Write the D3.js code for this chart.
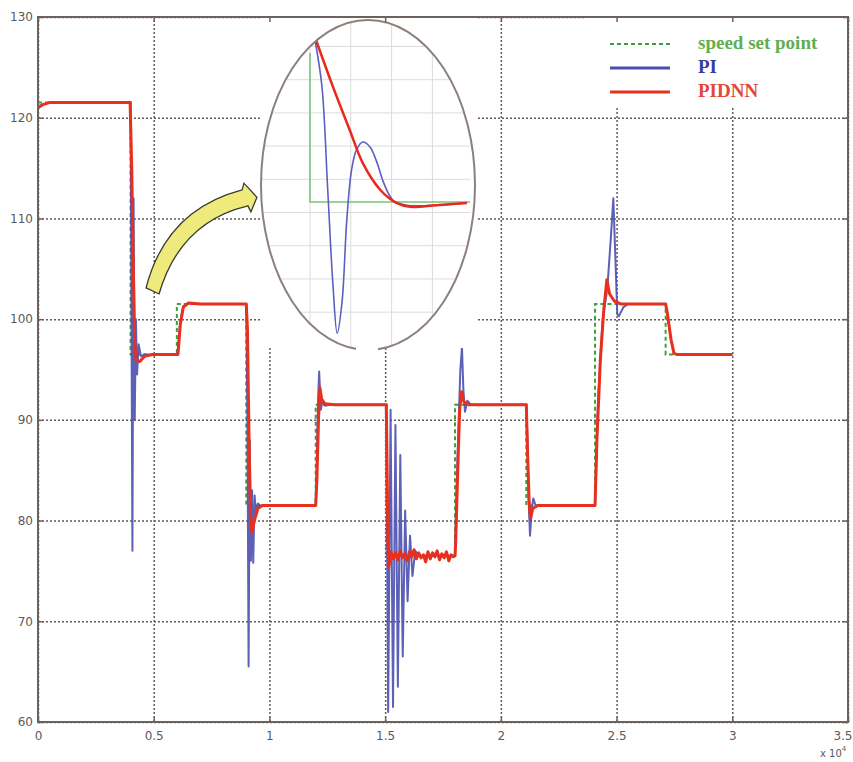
<!DOCTYPE html>
<html>
<head>
<meta charset="utf-8">
<script src="https://cdn.jsdelivr.net/npm/d3@7"></script>
<style>
  body { margin: 0; background: #fff; }
  .tick text { font-family: "DejaVu Sans", sans-serif; font-size: 12px; fill: #5a5a5a; }
  .leg { font-family: "Liberation Serif", serif; font-weight: bold; font-size: 19px; }
</style>
</head>
<body>
<svg width="853" height="762"></svg>
<script>
// ticks
var xTicks = [0, 0.5, 1, 1.5, 2, 2.5, 3, 3.5];
var yTicks = [60, 70, 80, 90, 100, 110, 120, 130];

// speed set point (step after)
var setPoint = [[0,121.5],[0.4,96.5],[0.6,101.5],[0.9,81.5],[1.2,91.5],[1.505,76.5],
  [1.802,91.5],[2.11,81.5],[2.407,101.5],[2.712,96.5],[3.0,96.5]];

// PI response
var piData = [[0,121.0],[0.02,121.3],[0.05,121.5],[0.4,121.5],[0.404,100],[0.408,77],[0.413,112],
  [0.418,90],[0.423,100],[0.428,94.5],[0.435,97.5],[0.445,96.3],[0.46,96.5],
  [0.6,96.5],[0.605,97],[0.615,99.8],[0.628,101.3],[0.65,101.6],[0.7,101.5],
  [0.9,101.5],[0.905,90],[0.91,65.5],[0.915,88],[0.92,76],[0.925,83],[0.93,75.8],[0.936,82.5],
  [0.942,80.5],[0.95,81.7],[0.96,81.5],
  [1.2,81.5],[1.204,85],[1.21,92],[1.215,94.8],[1.222,91],[1.23,92],[1.24,91.4],[1.26,91.5],
  [1.505,91.5],[1.509,76],[1.513,61],[1.5235,91],[1.534,61.5],[1.5445,89.5],[1.555,63.5],
  [1.5655,86.5],[1.576,66.5],[1.5865,81],[1.597,72],[1.6075,78.5],[1.618,74.5],[1.63,77],
  [1.645,76.5],[1.802,76.5],
  [1.805,80],[1.815,88],[1.825,95],[1.832,97.2],[1.838,93],[1.845,90.8],[1.855,91.9],[1.87,91.5],
  [2.11,91.5],[2.115,88],[2.12,82],[2.126,78.5],[2.133,81],[2.14,82.2],[2.15,81.5],
  [2.407,81.5],[2.42,92],[2.44,100],[2.46,103],[2.475,108],[2.486,112],[2.495,106],
  [2.503,100.5],[2.51,100.3],[2.53,101.2],[2.55,101.5],
  [2.712,101.5],[2.72,100.5],[2.735,98],[2.748,96.6],[2.76,96.5],[3.0,96.5]];

// PIDNN response
var pidnnData = [[0,121.0],[0.02,121.3],[0.05,121.5],[0.398,121.5],[0.405,115],[0.412,105],
  [0.418,97.5],[0.425,95.9],[0.44,95.8],[0.46,96.3],[0.5,96.5],
  [0.605,96.5],[0.615,99.5],[0.628,101.2],[0.65,101.6],[0.7,101.5],
  [0.9,101.5],[0.905,99],[0.912,88],[0.918,80.5],[0.925,78.8],[0.935,80],[0.95,81.2],[0.97,81.5],
  [1.2,81.5],[1.205,84],[1.212,90],[1.218,93.2],[1.226,92.0],[1.24,91.6],[1.28,91.5],
  [1.505,91.5],[1.508,86],[1.512,78],[1.515,75.3],[1.52,76.0],[1.525,76.9],[1.535,76.2],
  [1.545,76.8],[1.555,76.1],[1.565,77.0],[1.575,76.3],[1.585,76.7],[1.595,76.0],[1.605,76.9],
  [1.615,76.4],[1.625,77.1],[1.635,76.2],[1.645,76.8],[1.655,76.3],[1.665,76.6],[1.675,75.9],
  [1.685,76.9],[1.695,76.2],[1.705,76.8],[1.715,76.4],[1.725,77.0],[1.735,76.1],[1.745,76.7],
  [1.755,76.3],[1.765,76.9],[1.775,76.0],[1.785,76.6],[1.795,76.4],[1.802,76.5],
  [1.805,78],[1.815,86],[1.822,91],[1.83,92.8],[1.84,91.8],[1.86,91.5],
  [2.11,91.5],[2.115,87],[2.122,82],[2.128,80.2],[2.138,81.2],[2.16,81.5],
  [2.407,81.5],[2.415,88],[2.43,96],[2.445,101],[2.458,103.9],[2.47,102.5],[2.49,101.8],[2.52,101.5],
  [2.712,101.5],[2.72,100.5],[2.735,98],[2.748,96.6],[2.76,96.5],[3.0,96.5]];

// zoomed inset (normalised units)
var insetSet = [[0,0.92],[0,0],[10,0]];
var insetPIDNN = [[0.375,1],[1.44,0.71],[2.5,0.44],[3.3,0.24],[4.4,0.074],[5.4,-0.006],
  [6.25,-0.03],[7.9,-0.02],[9.8,-0.006]];
var insetPI = [[0.31,1],[0.75,0.71],[1.1,0.09],[1.44,-0.52],[1.7,-0.81],[2.0,-0.62],[2.3,-0.11],
  [2.6,0.2],[2.9,0.32],[3.3,0.37],[3.75,0.34],[4.2,0.24],[4.6,0.12],[5.2,0.01],[6.05,-0.02],
  [7.9,-0.02],[9.8,-0.006]];
var insetGridU = [0, 2.55, 5.1, 7.65];
var insetGridV = [-0.68, -0.475, -0.27, -0.065, 0.14, 0.345, 0.55, 0.755, 0.96];

// arrow outline, data units
var arrowPts = [[0.467,103.1],[0.553,110.85],[0.882,112.84],[0.890,113.5],[0.946,112.1],
  [0.920,110.65],[0.907,111.25],[0.614,109.66],[0.523,102.5]];

var legendItems = [
  {name: "speed set point", color: "#3f9e3c", text: "#5fae4f", dash: "4,3"},
  {name: "PI", color: "#4a4fae", text: "#3a3d9c", dash: null},
  {name: "PIDNN", color: "#e8301f", text: "#e2473a", dash: null}
];

var svg = d3.select("svg");
var x = d3.scaleLinear().domain([0, 3.5]).range([38, 848]);
var y = d3.scaleLinear().domain([60, 130]).range([722, 17]);
var w = 810, h = 705;

// grid
svg.append("g")
    .attr("transform", "translate(0,722)")
    .call(d3.axisBottom(x).tickValues(xTicks).tickSize(-h).tickFormat(""))
    .call(function(g){ g.select(".domain").remove(); })
    .selectAll("line")
    .attr("stroke", "#665a56").attr("stroke-width", 1.5).attr("stroke-dasharray", "2,2");
svg.append("g")
    .attr("transform", "translate(38,0)")
    .call(d3.axisLeft(y).tickValues(yTicks).tickSize(-w).tickFormat(""))
    .call(function(g){ g.select(".domain").remove(); })
    .selectAll("line")
    .attr("stroke", "#665a56").attr("stroke-width", 1.5).attr("stroke-dasharray", "2,2");

var line = d3.line().x(function(d){ return x(d[0]); }).y(function(d){ return y(d[1]); });

svg.append("path").datum(setPoint)
    .attr("d", line.curve(d3.curveStepAfter))
    .attr("fill", "none").attr("stroke", "#3f9e3c").attr("stroke-width", 2)
    .attr("stroke-dasharray", "4,3");
line.curve(d3.curveLinear);
svg.append("path").datum(piData)
    .attr("d", line)
    .attr("fill", "none").attr("stroke", "#4a4fae").attr("stroke-width", 2)
    .attr("stroke-linejoin", "round").attr("opacity", 0.9);
svg.append("path").datum(pidnnData)
    .attr("d", line)
    .attr("fill", "none").attr("stroke", "#e8301f").attr("stroke-width", 3)
    .attr("stroke-linejoin", "round");

// arrow
svg.append("path")
    .attr("d", function(){
      var p = arrowPts.map(function(d){ return [x(d[0]), y(d[1])]; });
      return "M" + p[0] + "Q" + p[1] + " " + p[2] + "L" + p[3] + "L" + p[4] + "L" + p[5] +
             "L" + p[6] + "Q" + p[7] + " " + p[8] + "Z";
    })
    .attr("fill", "#eeeb7c").attr("stroke", "#3a3a30").attr("stroke-width", 1.3);

// inset
var cx = 368, cy = 185, rx = 107, ry = 165;
svg.append("rect").attr("x", 260).attr("y", 18).attr("width", 218).attr("height", 330)
    .attr("fill", "#fff");
svg.append("clipPath").attr("id", "ell")
    .append("ellipse").attr("cx", cx).attr("cy", cy).attr("rx", rx).attr("ry", ry);
var xi = d3.scaleLinear().domain([0, 10]).range([cx - 58, cx + 102]);
var yi = d3.scaleLinear().domain([0, 1]).range([cy + 17, cy - 145]);
var ins = svg.append("g").attr("clip-path", "url(#ell)");
ins.selectAll(".gv").data(insetGridU).enter().append("line")
    .attr("x1", function(d){ return xi(d); }).attr("x2", function(d){ return xi(d); })
    .attr("y1", cy - ry).attr("y2", cy + ry)
    .attr("stroke", "#dcdcdc").attr("stroke-width", 1);
ins.selectAll(".gh").data(insetGridV).enter().append("line")
    .attr("y1", function(d){ return yi(d); }).attr("y2", function(d){ return yi(d); })
    .attr("x1", cx - 110).attr("x2", xi(10))
    .attr("stroke", "#dcdcdc").attr("stroke-width", 1);
var iline = d3.line().x(function(d){ return xi(d[0]); }).y(function(d){ return yi(d[1]); });
ins.append("path").datum(insetSet).attr("d", iline)
    .attr("fill", "none").attr("stroke", "#7cc47a").attr("stroke-width", 1.6);
ins.append("path").datum(insetPI).attr("d", iline.curve(d3.curveCatmullRom))
    .attr("fill", "none").attr("stroke", "#5a5fc0").attr("stroke-width", 1.6);
ins.append("path").datum(insetPIDNN).attr("d", iline)
    .attr("fill", "none").attr("stroke", "#e8291c").attr("stroke-width", 2.5);
svg.append("ellipse").attr("cx", cx).attr("cy", cy).attr("rx", rx).attr("ry", ry)
    .attr("fill", "none").attr("stroke", "#8c807c").attr("stroke-width", 2);
svg.append("rect").attr("x", 356).attr("y", 343).attr("width", 22).attr("height", 10)
    .attr("fill", "#fff");

// legend
svg.append("rect").attr("x", 586).attr("y", 18).attr("width", 262).attr("height", 90)
    .attr("fill", "#fff");
var leg = svg.selectAll(".legi").data(legendItems).enter().append("g")
    .attr("transform", function(d, i){ return "translate(610," + (44 + i * 24) + ")"; });
leg.append("line").attr("x1", 0).attr("x2", 60)
    .attr("stroke", function(d){ return d.color; })
    .attr("stroke-width", function(d, i){ return i == 0 ? 2 : 3; })
    .attr("stroke-dasharray", function(d){ return d.dash; });
leg.append("text").attr("class", "leg").attr("x", 88).attr("y", 5)
    .attr("fill", function(d){ return d.text; })
    .text(function(d){ return d.name; });

// axes box with inner ticks
svg.append("rect").attr("x", 38).attr("y", 17).attr("width", w).attr("height", h)
    .attr("fill", "none").attr("stroke", "#6b625e").attr("stroke-width", 2);
function tickStyle(g){ g.select(".domain").remove(); g.selectAll("line").attr("stroke", "#6b625e").attr("stroke-width", 1.5); }
svg.append("g").attr("transform", "translate(0,722)")
    .call(d3.axisBottom(x).tickValues(xTicks).tickSizeInner(-5).tickSizeOuter(0).tickPadding(9)
      .tickFormat(function(d){ return d3.format("")(d); }))
    .call(tickStyle)
    .selectAll("text")
    .attr("text-anchor", function(d){ return d == 3.5 ? "end" : "middle"; })
    .attr("dx", function(d){ return d == 3.5 ? 4 : 0; });
svg.append("g").attr("transform", "translate(38,0)")
    .call(d3.axisLeft(y).tickValues(yTicks).tickSizeInner(-5).tickSizeOuter(0).tickPadding(5))
    .call(tickStyle);
svg.append("g").attr("transform", "translate(0,17)")
    .call(d3.axisTop(x).tickValues(xTicks).tickSizeInner(-5).tickSizeOuter(0).tickFormat(""))
    .call(tickStyle);
svg.append("g").attr("transform", "translate(848,0)")
    .call(d3.axisRight(y).tickValues(yTicks).tickSizeInner(-5).tickSizeOuter(0).tickFormat(""))
    .call(tickStyle);

// exponent label
var ex = svg.append("text").attr("x", 820).attr("y", 757)
    .style("font-family", "DejaVu Sans, sans-serif").style("font-size", "10px").attr("fill", "#5a5a5a");
ex.append("tspan").text("x 10");
ex.append("tspan").attr("dy", -6).style("font-size", "7px").text("4");
</script>
</body>
</html>
